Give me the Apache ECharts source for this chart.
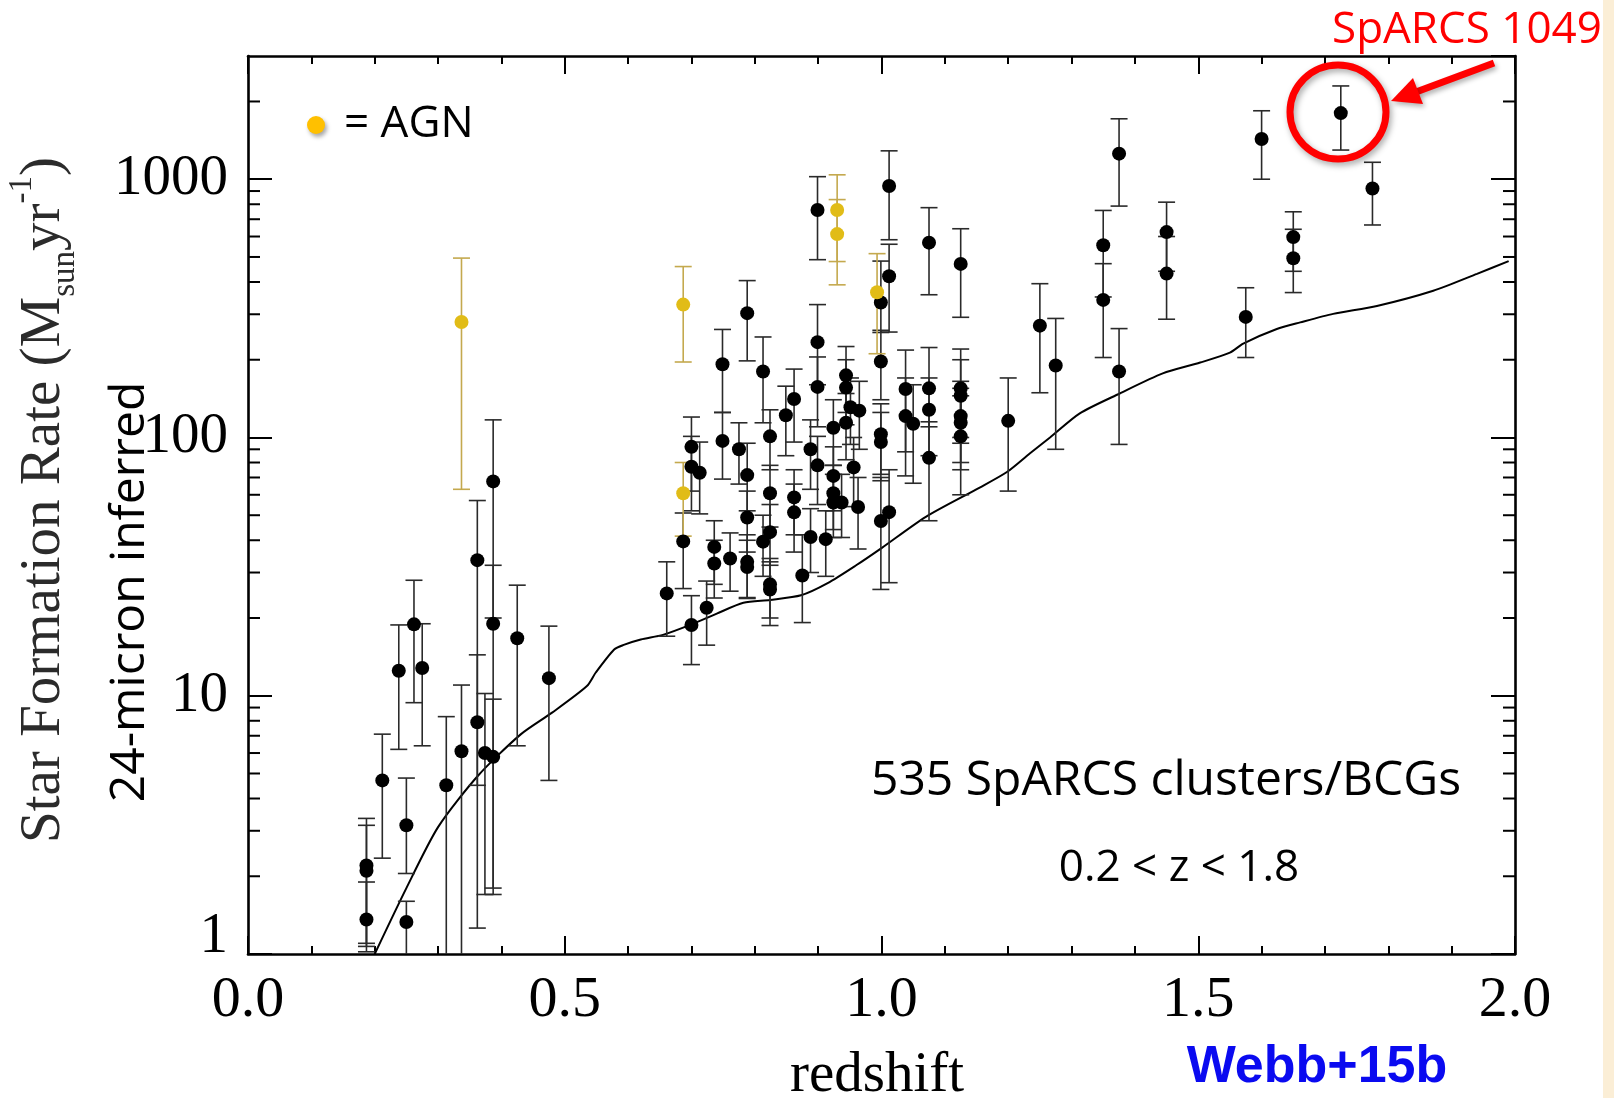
<!DOCTYPE html>
<html><head><meta charset="utf-8">
<script src="https://cdn.jsdelivr.net/npm/echarts@6/dist/echarts.min.js"></script>
<style>html,body{margin:0;padding:0;background:#fff}#c{width:1614px;height:1098px}</style>
</head><body><div id="c"></div>
<script>
// ---- Data ----
// Non-AGN BCGs: redshift, SFR, lower and upper error bounds
const sfZ  = [0.187,0.187,0.187,0.212,0.238,0.262,0.275,0.250,0.250,0.313,0.337,0.362,0.362,0.374,0.387,0.387,0.387,0.425,0.475,
              0.661,0.687,0.700,0.700,0.700,0.713,0.724,0.736,0.736,0.749,0.749,0.761,0.775,0.788,0.788,0.788,0.788,0.788,0.813,0.813,
              0.824,0.824,0.824,0.824,0.824,0.849,0.862,0.862,0.862,0.875,0.888,0.888,0.899,0.899,0.899,0.899,0.912,0.924,0.924,0.924,
              0.924,0.937,0.944,0.944,0.944,0.951,0.965,0.956,0.963,0.999,0.999,0.999,0.999,0.999,1.012,1.012,1.012,1.038,1.038,1.050,
              1.075,1.075,1.075,1.075,1.125,1.125,1.125,1.125,1.125,1.125,1.200,1.250,1.275,1.350,1.350,1.375,1.375,1.450,1.450,1.575,
              1.600,1.650,1.650,1.725,1.775];
const sfVal= [2.2,2.1,1.36,4.7,12.5,18.9,12.8,3.15,1.33,4.5,6.1,33.5,7.9,6.0,67.6,19,5.8,16.7,11.7,
              24.9,39.6,18.8,92,77,73,21.9,37.7,32.5,192,97,34,90,303,71.5,49,33,31.5,180,39.5,
              101,60.8,43,27,25.8,122,141,58.6,51.3,29.2,90,41.2,760,234,157,78,40.4,109,71,60.8,
              56,56,174,156,114,131,127,76.6,53.8,333,197,103,96,47.5,941,421,51.4,154,121,113,
              568,155,128,83.4,470,155,145,121,114,101,116,271,190,555,341,1256,180,624,431,293,
              1431,597,494,1803,920];
const sfLo = [1.1,1.07,1.02,2.35,6.2,9.4,6.4,2.05,0.5,0.5,0.5,1.26,4.5,1.7,20,1.8,1.7,6.4,4.7,
              17,26,13.2,62,52,50.6,15.7,27,23.9,125,69,25.4,66,198,52,36,24,23.8,114,29,
              75,45,32,20,18.7,85,96,42,36,19.2,63,30,488,160,110,55,29,78,52,44,
              41,41,125,112,82,94,90,54,37,255,140,72,68,25.8,583,256,27.4,88,71,66.5,
              357,110,85,47.6,292,100,95,80,75,60,62,149,90,350,204,787,94,440,287,204,
              1000,440,364,1297,665];
const sfHi = [3.35,3.15,1.9,7.1,18.8,28,19,4.8,1.6,8.3,11,57,14.4,10.2,117,32,9.7,26.8,18.6,
              33,51,24.4,120,101,96,27.8,47.6,40,262,125,42.7,114,405,95,62,42,40,245,50,
              128,78,55,34,33,158,184,75,66,42,117,53,1023,327,205,101,52,140,92,78,
              72,72,225,200,148,170,165,100,70,482,260,135,125,70,1288,560,75,218,170,160,
              776,223,170,115,643,220,200,165,155,145,170,394,289,757,471,1714,264,815,600,380,
              1841,748,640,2297,1163];
// AGN-hosting BCGs
const agnZ   = [0.337,0.687,0.687,0.930,0.930,0.993];
const agnVal = [280,327,60.8,760,613,365];
const agnLo  = [63,196,41.5,480,390,211];
const agnHi  = [495,459,80,1040,834,515];
// Model curve
const modelZ   = [0.2,0.25,0.3,0.363,0.43,0.48,0.535,0.549,0.578,0.592,0.62,0.655,0.698,0.74,0.782,0.824,0.873,0.915,0.96,1.0,
                  1.07,1.155,1.198,1.234,1.266,1.313,1.376,1.444,1.503,1.55,1.571,1.624,1.661,1.713,1.782,1.871,1.94,1.99];
const modelSfr = [1.0,1.8,3.1,4.9,7.07,8.6,10.9,12.3,15.1,15.7,16.5,17.2,18.8,20.8,22.9,23.5,24.5,27.3,32,37.3,
                  49.3,64,73.5,86.7,100,124,148,177,195,213,231,263,279,301,323,370,430,482];
// Axis ticks
const xTickLabels = ['0.0','0.5','1.0','1.5','2.0'];
const yTickLabels = ['1','10','100','1000'];
const yMinorTicks = [2,3,4,5,6,7,8,9,20,30,40,50,60,70,80,90,200,300,400,500,600,700,800,900,2000];

// ---- Chart ----
const chart = echarts.init(document.getElementById('c'), null, {renderer:'canvas'});
const serif = '"Liberation Serif","Times New Roman",serif';
const sans = '"Open Sans","Noto Sans",sans-serif';

function errorBars(z, lo, hi, color, name){
  return {
    type:'custom', name:name, xAxisIndex:0, yAxisIndex:0, silent:true, z:2,
    data: z.map((v,i)=>[v, lo[i], hi[i]]),
    encode:{x:0, y:[1,2]},
    renderItem:function(params, api){
      const x = api.value(0);
      const top = api.coord([x, api.value(2)]);
      const bot = api.coord([x, api.value(1)]);
      const cs = params.coordSys;
      const yMin = cs.y, yMax = cs.y + cs.height;
      const half = 8.5;
      const st = {stroke:color, lineWidth:1.6};
      const ch = [{type:'line', shape:{x1:top[0], y1:Math.max(top[1],yMin), x2:top[0], y2:Math.min(bot[1],yMax)}, style:st}];
      if (top[1] >= yMin) ch.push({type:'line', shape:{x1:top[0]-half, y1:top[1], x2:top[0]+half, y2:top[1]}, style:st});
      if (bot[1] <= yMax) ch.push({type:'line', shape:{x1:bot[0]-half, y1:bot[1], x2:bot[0]+half, y2:bot[1]}, style:st});
      return {type:'group', children:ch};
    }
  };
}

const minorTickSeries = {
  type:'custom', silent:true, z:5, xAxisIndex:0, yAxisIndex:0,
  data: yMinorTicks.map(v=>[1, v]),
  encode:{x:0, y:1},
  renderItem:function(params, api){
    const p = api.coord([1, api.value(1)]);
    const cs = params.coordSys;
    const st = {stroke:'#000', lineWidth:2};
    return {type:'group', children:[
      {type:'line', shape:{x1:cs.x, y1:p[1], x2:cs.x+12, y2:p[1]}, style:st},
      {type:'line', shape:{x1:cs.x+cs.width, y1:p[1], x2:cs.x+cs.width-12, y2:p[1]}, style:st}
    ]};
  }
};

const axisLineStyle = {color:'#000', width:2.6};
const xAxisBase = {
  type:'value', min:0, max:2, interval:0.5,
  axisLine:{show:true, onZero:false, lineStyle:axisLineStyle},
  axisTick:{show:true, inside:true, length:18, lineStyle:{color:'#000', width:2}},
  minorTick:{show:true, splitNumber:5, length:8, lineStyle:{color:'#000', width:2}},
  splitLine:{show:false}, minorSplitLine:{show:false}
};
const yAxisBase = {
  type:'log', logBase:10, min:1, max:3000,
  axisLine:{show:true, onZero:false, lineStyle:axisLineStyle},
  axisTick:{show:true, inside:true, length:24, lineStyle:{color:'#000', width:2}},
  splitLine:{show:false}
};

const option = {
  animation:false,
  backgroundColor:'#ffffff',
  grid:{left:248, top:56, width:1267, height:898, containLabel:false},
  xAxis:[
    Object.assign({}, xAxisBase, {position:'bottom',
      axisLabel:{show:true, margin:18, fontFamily:serif, fontSize:58, color:'#000',
        formatter:function(v){ return xTickLabels[Math.round(v/0.5)]; }}}),
    Object.assign({}, xAxisBase, {position:'top', axisLabel:{show:false}})
  ],
  yAxis:[
    Object.assign({}, yAxisBase, {position:'left',
      axisLabel:{show:true, margin:20, fontFamily:serif, fontSize:57, color:'#000', showMaxLabel:false,
        formatter:function(v){
          const k = Math.round(Math.log10(v));
          if (Math.abs(Math.log10(v)-k) > 1e-6 || k > 3) return '';
          return k === 0 ? '{one|' + yTickLabels[0] + '}' : yTickLabels[k];
        },
        rich:{one:{fontFamily:serif, fontSize:57, color:'#000', padding:[0,0,34,0]}}}}),
    Object.assign({}, yAxisBase, {position:'right', axisLabel:{show:false}})
  ],
  series:[
    {type:'line', name:'model', data:modelZ.map((z,i)=>[z, modelSfr[i]]), showSymbol:false, smooth:0.25,
     lineStyle:{color:'#000', width:2}, z:1, silent:true, clip:true},
    errorBars(sfZ, sfLo, sfHi, '#2a2a2a', 'bcgErr'),
    errorBars(agnZ, agnLo, agnHi, '#c4a94e', 'agnErr'),
    {type:'scatter', name:'BCG', data:sfZ.map((z,i)=>[z, sfVal[i]]), symbol:'circle', symbolSize:14,
     itemStyle:{color:'#000', opacity:1}, z:3, silent:true},
    {type:'scatter', name:'AGN', data:agnZ.map((z,i)=>[z, agnVal[i]]), symbol:'circle', symbolSize:14,
     itemStyle:{color:'#e1bc17', opacity:1}, z:4, silent:true},
    minorTickSeries
  ],
  graphic:[
    {type:'rect', shape:{x:1603, y:0, width:11, height:1098}, style:{fill:'#fbeed6'}, silent:true},
    // y-axis titles
    {type:'text', x:44, y:500, rotation:Math.PI/2, silent:true,
     style:{text:'{a|Star Formation Rate (M}{sub|sun}{a|yr}{sup|-1}{a|)}', align:'center', verticalAlign:'middle',
       textAlign:'center', textVerticalAlign:'middle',
       rich:{a:{fontFamily:serif, fontSize:57, fill:'#2b2b2b', color:'#2b2b2b', lineHeight:76, verticalAlign:'middle'},
             sub:{fontFamily:serif, fontSize:33, fill:'#2b2b2b', color:'#2b2b2b', lineHeight:76, verticalAlign:'bottom'},
             sup:{fontFamily:serif, fontSize:33, fill:'#2b2b2b', color:'#2b2b2b', lineHeight:76, verticalAlign:'top'}}}},
    {type:'text', x:130, y:592, rotation:Math.PI/2, silent:true,
     style:{text:'24-micron inferred', fontFamily:sans, fontSize:48, fill:'#000',
       align:'center', verticalAlign:'middle', textAlign:'center', textVerticalAlign:'middle'}},
    // x-axis title and credit
    {type:'text', x:877, y:1076, silent:true,
     style:{text:'redshift', fontFamily:serif, fontSize:57, fill:'#000',
       align:'center', verticalAlign:'middle', textAlign:'center', textVerticalAlign:'middle'}},
    {type:'text', x:1317, y:1068, silent:true,
     style:{text:'Webb+15b', fontFamily:'"Liberation Sans",Arial,sans-serif', fontWeight:'bold', fontSize:52, fill:'#0a0af0',
       align:'center', verticalAlign:'middle', textAlign:'center', textVerticalAlign:'middle'}},
    // AGN key
    {type:'circle', shape:{cx:316, cy:125, r:9}, silent:true,
     style:{fill:'#ffc000', shadowBlur:4, shadowOffsetX:2, shadowOffsetY:3, shadowColor:'rgba(0,0,0,0.35)'}},
    {type:'text', x:344, y:124, silent:true,
     style:{text:'= AGN', fontFamily:sans, fontSize:44, fill:'#000',
       align:'left', verticalAlign:'middle', textAlign:'left', textVerticalAlign:'middle'}},
    // annotations
    {type:'text', x:1166, y:781, silent:true,
     style:{text:'535 SpARCS clusters/BCGs', fontFamily:sans, fontSize:48, fill:'#000',
       align:'center', verticalAlign:'middle', textAlign:'center', textVerticalAlign:'middle'}},
    {type:'text', x:1179, y:868, silent:true,
     style:{text:'0.2 < z < 1.8', fontFamily:sans, fontSize:44, fill:'#000',
       align:'center', verticalAlign:'middle', textAlign:'center', textVerticalAlign:'middle'}},
    {type:'text', x:1332, y:30, silent:true,
     style:{text:'SpARCS 1049', fontFamily:sans, fontSize:44, fill:'#ff0000',
       align:'left', verticalAlign:'middle', textAlign:'left', textVerticalAlign:'middle'}},
    {type:'ellipse', shape:{cx:1338, cy:112, rx:48, ry:47}, silent:true, z:10,
     style:{fill:null, stroke:'#ff0000', lineWidth:7, shadowBlur:6, shadowOffsetX:2, shadowOffsetY:3, shadowColor:'rgba(0,0,0,0.35)'}},
    {type:'line', shape:{x1:1494, y1:63, x2:1416, y2:92}, silent:true, z:10,
     style:{stroke:'#ff0000', lineWidth:7, shadowBlur:5, shadowOffsetX:2, shadowOffsetY:3, shadowColor:'rgba(0,0,0,0.3)'}},
    {type:'polygon', shape:{points:[[1391,101],[1413,78],[1423,104]]}, silent:true, z:10,
     style:{fill:'#ff0000', shadowBlur:5, shadowOffsetX:2, shadowOffsetY:3, shadowColor:'rgba(0,0,0,0.3)'}}
  ]
};
chart.setOption(option);
</script></body></html>
